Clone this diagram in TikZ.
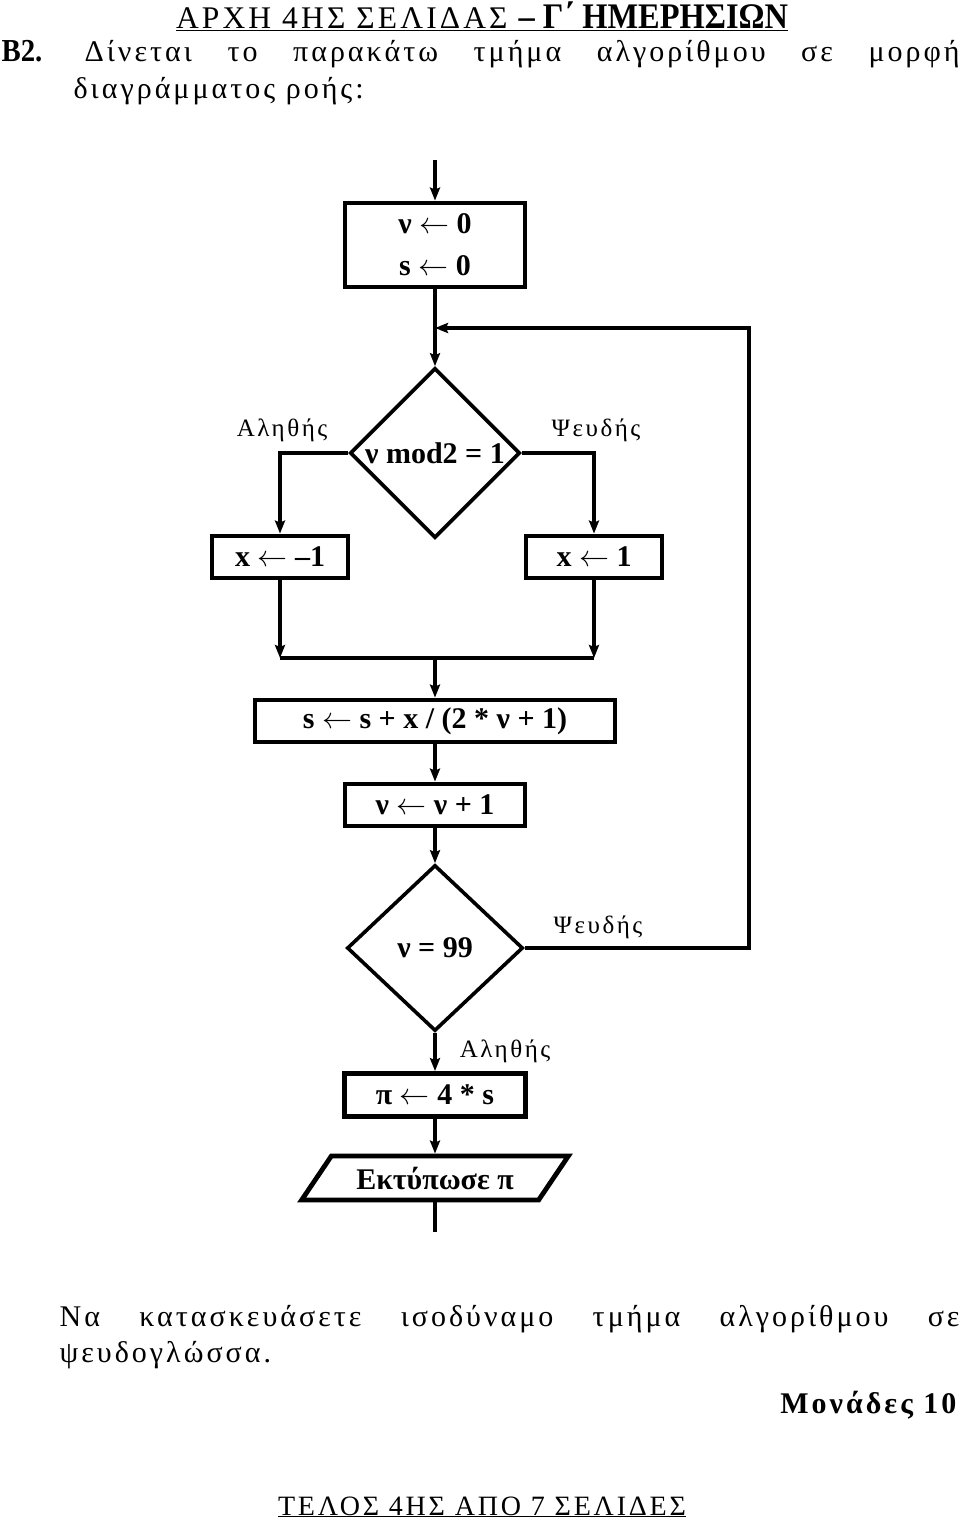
\RequirePackage{fix-cm}
\documentclass[tikz,border=0pt]{standalone}
\usepackage{fontspec}
\setmainfont{Liberation Serif}
\newfontfamily\grk[LetterSpace=10]{Liberation Serif}
\newfontfamily\hdrfont[FakeStretch=0.9]{Liberation Serif}
\usetikzlibrary{arrows.meta,positioning,shapes.geometric}

\newcommand{\assign}{\ensuremath{\leftarrow}}

\begin{document}
\begin{tikzpicture}
[x=1pt,y=-1pt,>={Stealth[length=13pt,width=10pt,inset=2pt]},line width=3.2pt,
  box/.style={draw,line width=4.8pt,inner sep=0pt,minimum height=42pt,
    font=\fontsize{30}{42}\selectfont\bfseries},
  test/.style={draw,diamond,line width=3.6pt,inner sep=0pt,
    font=\fontsize{30}{36}\selectfont\bfseries},
  answer/.style={font=\grk\fontsize{25}{30}\selectfont},
  prose/.style={anchor=base west,inner sep=0pt,font=\grk\fontsize{30}{34}\selectfont}]

  \useasboundingbox (0,0) rectangle (960,1522);

  % header and question
  \node (hdr) [anchor=base,inner sep=0pt] at (482,29)
    {\underline{\grk\fontsize{31.5}{34}\selectfont ΑΡΧΗ 4ΗΣ ΣΕΛΙΔΑΣ \hdrfont\fontsize{36}{40}\selectfont\bfseries – Γ΄ ΗΜΕΡΗΣΙΩΝ}};
  \node (qnum) [prose,font=\hdrfont\fontsize{32}{34}\selectfont\bfseries] at (0,62) {Β2.};
  \node (q1) [prose] at (83,62) {\makebox[875pt][s]{Δίνεται το παρακάτω τμήμα αλγορίθμου σε μορφή}};
  \node (q2) [prose] at (72,99) {διαγράμματος ροής:};

  % flowchart
  \coordinate (entry) at (435,160);
  \node [box,minimum width=180pt,minimum height=84pt,align=center] (init) at (435,245)
    {ν \assign{} 0\\s \assign{} 0};
  \coordinate (join) at (435,328);
  \coordinate (loop) at (749,328);
  \node [test,minimum width=170pt,minimum height=170pt] (odd) at (435,453)
    {\makebox[0pt]{ν mod2 = 1}};
  \node [answer] (oddT) at (282,430) {Αληθής};
  \node [answer] (oddF) at (596,430) {Ψευδής};
  \node [box,minimum width=136pt] (xneg) at (280,557) {x \assign{} –1};
  \node [box,minimum width=136pt] (xpos) at (594,557) {x \assign{} 1};
  \coordinate (mrgL) at (280,658);
  \coordinate (mrgR) at (594,658);
  \coordinate (mrg) at (435,658);
  \node [box,minimum width=360pt] (sum) at (435,721) {s \assign{} s + x / (2 * ν + 1)};
  \node [box,minimum width=180pt] (inc) at (435,805) {ν \assign{} ν + 1};
  \node [test,minimum width=176pt,minimum height=166pt] (stop) at (435,948)
    {\makebox[0pt]{ν = 99}};
  \node [answer] (stopF) at (598,927) {Ψευδής};
  \node [answer] (stopT) at (505,1051) {Αληθής};
  \node [box,minimum width=181pt,minimum height=43pt] (pi) at (435,1095) {π \assign{} 4 * s};
  \node [box,trapezium,trapezium left angle=45,trapezium right angle=135,
    trapezium stretches=true,minimum width=267pt,minimum height=44pt] (out) at (435,1178)
    {Εκτύπωσε π};
  \coordinate (exit) at (435,1232);

  \draw[->] (entry) -- (init);
  \draw[->] (init) -- (odd);
  \draw[->] (stop.east) -| (loop) -- (join);
  \draw[->] (odd.west) -| (xneg);
  \draw[->] (odd.east) -| (xpos);
  \draw[->] (xneg) -- (mrgL);
  \draw[->] (xpos) -- (mrgR);
  \draw (mrgL) -- (mrgR);
  \draw[->] (mrg) -- (sum);
  \draw[->] (sum) -- (inc);
  \draw[->] (inc) -- (stop);
  \draw[->] (stop) -- (pi);
  \draw[->] (pi) -- (out);
  \draw (out) -- (exit);

  % task and footer
  \node (t1) [prose] at (58,1326) {\makebox[900pt][s]{Να κατασκευάσετε ισοδύναμο τμήμα αλγορίθμου σε}};
  \node (t2) [prose] at (58,1362) {ψευδογλώσσα.};
  \node (marks) [prose,anchor=base east,font=\grk\fontsize{30}{34}\selectfont\bfseries] at (958,1413) {Μονάδες 10};
  \node (ftr) [anchor=base,inner sep=0pt] at (482,1515)
    {\underline{\grk\fontsize{28}{34}\selectfont ΤΕΛΟΣ 4ΗΣ ΑΠΟ 7 ΣΕΛΙΔΕΣ}};

\end{tikzpicture}
\end{document}
